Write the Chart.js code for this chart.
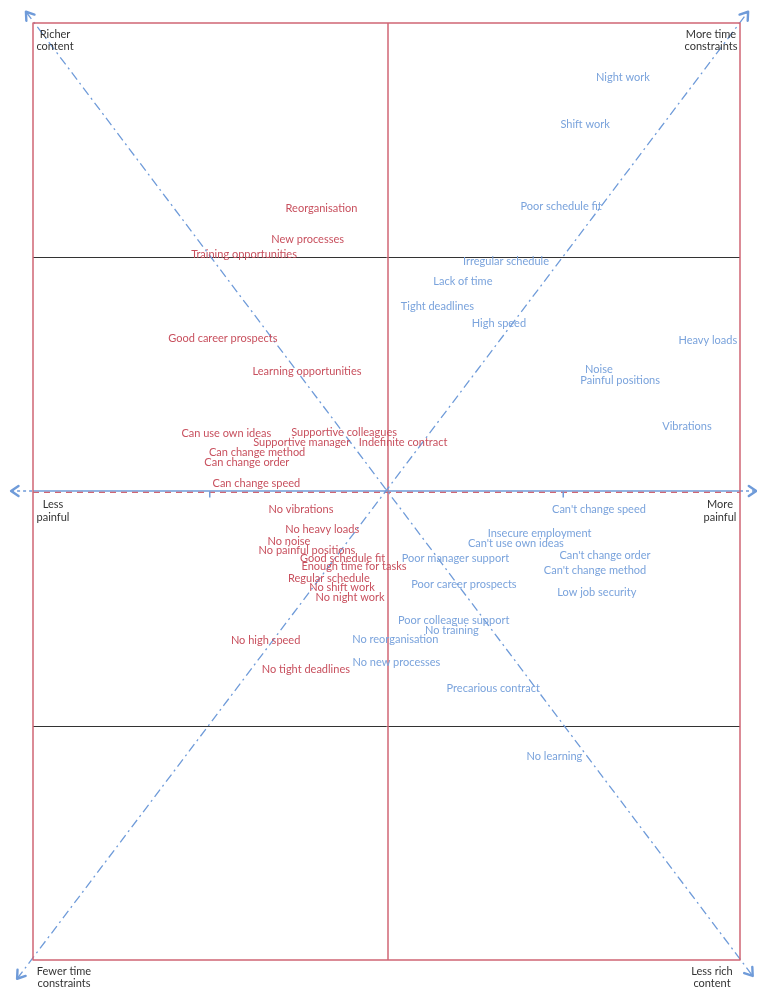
<!DOCTYPE html>
<html><head><meta charset="utf-8">
<script src="https://cdn.jsdelivr.net/npm/chart.js@4.4.1/dist/chart.umd.min.js"></script>
<style>html,body{margin:0;padding:0;background:#fff;}#wrap{width:757px;height:987px;position:relative;}</style>
</head><body><div id="wrap"><canvas id="c"></canvas></div>
<script>
// Favourable job characteristics (red)
const favLabels = ["Reorganisation","New processes","Training opportunities","Good career prospects","Learning opportunities",
  "Can use own ideas","Supportive colleagues","Supportive manager","Indefinite contract","Can change method","Can change order",
  "Can change speed","No vibrations","No heavy loads","No noise","No painful positions","Good schedule fit","Enough time for tasks",
  "Regular schedule","No shift work","No night work","No high speed","No tight deadlines"];
const favX = [-0.184,-0.223,-0.403,-0.463,-0.225,-0.453,-0.120,-0.240,0.047,-0.366,-0.395,-0.368,-0.242,-0.182,-0.276,-0.225,-0.124,-0.092,-0.163,-0.126,-0.103,-0.342,-0.228];
const favY = [0.605,0.537,0.505,0.326,0.257,0.123,0.127,0.104,0.104,0.084,0.063,0.018,-0.039,-0.080,-0.106,-0.125,-0.142,-0.161,-0.185,-0.204,-0.227,-0.319,-0.379];

// Unfavourable job characteristics (blue)
const unfLabels = ["Night work","Shift work","Poor schedule fit","Irregular schedule","Lack of time","Tight deadlines","High speed",
  "Heavy loads","Noise","Painful positions","Vibrations","Can't change speed","Insecure employment","Can't use own ideas",
  "Poor manager support","Can't change order","Can't change method","Poor career prospects","Low job security",
  "Poor colleague support","No training","No reorganisation","No new processes","Precarious contract","No learning"];
const unfX = [0.669,0.562,0.494,0.338,0.216,0.144,0.318,0.909,0.601,0.661,0.850,0.601,0.433,0.366,0.195,0.618,0.590,0.219,0.595,0.190,0.185,0.025,0.028,0.302,0.475];
const unfY = [0.883,0.784,0.608,0.492,0.449,0.396,0.358,0.323,0.261,0.238,0.138,-0.039,-0.089,-0.111,-0.143,-0.136,-0.168,-0.198,-0.215,-0.276,-0.296,-0.315,-0.365,-0.420,-0.565];

// Axis end labels
const cornerTop = [["Richer","content"],["More time","constraints"]];
const cornerMid = [["Less","painful"],["More","painful"]];
const cornerBottom = [["Fewer time","constraints"],["Less rich","content"]];
const xTicks = [-0.5, 0.5];
const yGrid = [-0.5, 0.5];

const RED_TEXT = '#c8505e', BLUE_TEXT = '#7aa3dc', FRAME = '#d06674', DIAG = '#6f9bd9', DARK = '#333333';
const FONT = '11px Lato';

function toPoints(xs, ys){ return xs.map((x,i)=>({x:x, y:ys[i]})); }

function arrowHead(ctx, x0, y0, x1, y1){
  const a = Math.atan2(y1-y0, x1-x0), L = 9, w = 0.6;
  ctx.beginPath();
  ctx.moveTo(x1 - L*Math.cos(a-w), y1 - L*Math.sin(a-w));
  ctx.lineTo(x1, y1);
  ctx.lineTo(x1 - L*Math.cos(a+w), y1 - L*Math.sin(a+w));
  ctx.stroke();
}

const mapPlugin = {
  id: 'mapPlugin',
  beforeDatasetsDraw(chart){
    const {ctx, chartArea:ca, scales:{x, y}} = chart;
    ctx.save();
    // grid lines
    ctx.strokeStyle = DARK; ctx.lineWidth = 1;
    yGrid.forEach(v=>{ const py = Math.round(y.getPixelForValue(v))+0.5; ctx.beginPath(); ctx.moveTo(ca.left, py); ctx.lineTo(ca.right, py); ctx.stroke(); });
    // vertical center line
    const cx = x.getPixelForValue(0)+1.5, cy = y.getPixelForValue(0);
    ctx.strokeStyle = FRAME; ctx.lineWidth = 1.5;
    ctx.beginPath(); ctx.moveTo(cx, ca.top); ctx.lineTo(cx, ca.bottom); ctx.stroke();
    // horizontal axis
    ctx.strokeStyle = DIAG; ctx.lineWidth = 1.5; ctx.setLineDash([]);
    ctx.beginPath(); ctx.moveTo(ca.left, cy-0.5); ctx.lineTo(ca.right, cy-0.5); ctx.stroke();
    ctx.setLineDash([3,3]);
    const lx = x.getPixelForValue(-1.062), rx = x.getPixelForValue(1.046);
    ctx.beginPath(); ctx.moveTo(lx, cy-0.5); ctx.lineTo(ca.left, cy-0.5); ctx.moveTo(ca.right, cy-0.5); ctx.lineTo(rx, cy-0.5); ctx.stroke();
    ctx.setLineDash([6,5]); ctx.strokeStyle = FRAME; ctx.lineWidth = 1.2;
    ctx.beginPath(); ctx.moveTo(ca.left, cy+0.8); ctx.lineTo(ca.right, cy+0.8); ctx.stroke();
    ctx.setLineDash([]);
    // ticks
    ctx.strokeStyle = DIAG; ctx.lineWidth = 1.5;
    xTicks.forEach(v=>{ const px = x.getPixelForValue(v); ctx.beginPath(); ctx.moveTo(px, cy); ctx.lineTo(px, cy+6); ctx.stroke(); });
    // diagonals
    ctx.lineWidth = 1.3; ctx.setLineDash([9,4,2,4]);
    const d1a = [x.getPixelForValue(-1.02), y.getPixelForValue(1.024)], d1b = [x.getPixelForValue(1.036), y.getPixelForValue(-1.034)];
    const d2a = [x.getPixelForValue(-1.045), y.getPixelForValue(-1.04)], d2b = [x.getPixelForValue(1.023), y.getPixelForValue(1.024)];
    ctx.beginPath(); ctx.moveTo(d1a[0], d1a[1]); ctx.lineTo(d1b[0], d1b[1]); ctx.stroke();
    ctx.beginPath(); ctx.moveTo(d2a[0], d2a[1]); ctx.lineTo(d2b[0], d2b[1]); ctx.stroke();
    ctx.setLineDash([]); ctx.lineWidth = 2.4; ctx.lineCap = 'round'; ctx.lineJoin='round';
    arrowHead(ctx, d1b[0], d1b[1], d1a[0], d1a[1]);
    arrowHead(ctx, d1a[0], d1a[1], d1b[0], d1b[1]);
    arrowHead(ctx, d2b[0], d2b[1], d2a[0], d2a[1]);
    arrowHead(ctx, d2a[0], d2a[1], d2b[0], d2b[1]);
    arrowHead(ctx, rx, cy-0.5, lx, cy-0.5);
    arrowHead(ctx, lx, cy-0.5, rx, cy-0.5);
    // frame
    ctx.lineCap='butt';
    ctx.strokeStyle = FRAME; ctx.lineWidth = 1.5;
    ctx.strokeRect(ca.left, ca.top, ca.right-ca.left, ca.bottom-ca.top);
    ctx.restore();
  },
  afterDatasetsDraw(chart){
    const {ctx, chartArea:ca} = chart;
    ctx.save();
    ctx.font = FONT; ctx.textAlign = 'center'; ctx.textBaseline = 'middle';
    chart.data.datasets.forEach((ds, di)=>{
      const meta = chart.getDatasetMeta(di);
      ctx.fillStyle = ds.textColor;
      meta.data.forEach((el, i)=>{ ctx.fillText(ds.labels[i], el.x, el.y); });
    });
    ctx.fillStyle = DARK;
    const put = (lines, px, py)=>{ lines.forEach((t,i)=>ctx.fillText(t, px, py + i*12.5)); };
    put(cornerTop[0], ca.left+22, ca.top+11);
    put(cornerTop[1], ca.right-29, ca.top+11);
    put(cornerMid[0], ca.left+20, (ca.top+ca.bottom)/2+13);
    put(cornerMid[1], ca.right-20, (ca.top+ca.bottom)/2+13);
    put(cornerBottom[0], ca.left+31, ca.bottom+11);
    put(cornerBottom[1], ca.right-28, ca.bottom+11);
    ctx.restore();
  }
};

new Chart(document.getElementById('c'), {
  type: 'scatter',
  data: { datasets: [
    { label: 'Favourable', data: toPoints(favX, favY), labels: favLabels, textColor: RED_TEXT, pointRadius: 0, pointHoverRadius: 0 },
    { label: 'Unfavourable', data: toPoints(unfX, unfY), labels: unfLabels, textColor: BLUE_TEXT, pointRadius: 0, pointHoverRadius: 0 }
  ]},
  options: {
    responsive: true, maintainAspectRatio: false, animation: false, devicePixelRatio: 1,
    layout: { padding: { left: 33, right: 17, top: 23, bottom: 27 } },
    scales: {
      x: { type: 'linear', min: -1, max: 1, display: false },
      y: { type: 'linear', min: -1, max: 1, display: false }
    },
    plugins: { legend: { display: false }, tooltip: { enabled: false } }
  },
  plugins: [mapPlugin]
});
</script>
</body></html>
